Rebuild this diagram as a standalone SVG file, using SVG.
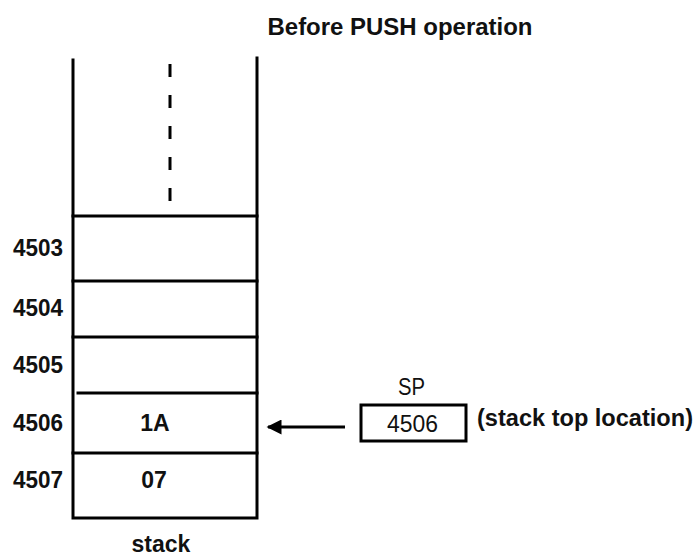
<svg xmlns="http://www.w3.org/2000/svg" width="697" height="556" viewBox="0 0 697 556">
<defs>
<style>
.ln{stroke:#000;stroke-width:3;fill:none;stroke-linecap:square}
.t{font-family:"Liberation Sans",Arial,sans-serif;font-weight:bold;font-size:23px;fill:#111}
.r{font-family:"Liberation Sans",Arial,sans-serif;font-size:24px;fill:#111}
</style>
<marker id="ah" viewBox="0 0 10 10" refX="9" refY="5" markerWidth="5.5" markerHeight="5" orient="auto-start-reverse" markerUnits="strokeWidth">
<path d="M0,0 L10,5 L0,10 z" fill="#000"/>
</marker>
</defs>
<rect width="697" height="556" fill="#fff"/>
<text class="t" x="400" y="35" text-anchor="middle" textLength="265" lengthAdjust="spacingAndGlyphs">Before PUSH operation</text>
<g id="stack">
<path class="ln" d="M73,60 V518 H257 V58"/>
<path class="ln" d="M170,64 V206" stroke-dasharray="13,18" style="stroke-linecap:butt"/>
<text class="t" x="161" y="552" text-anchor="middle">stack</text>
</g>
<g id="cell4503">
<line class="ln" x1="73" y1="216" x2="257" y2="216"/>
<text class="t" x="13" y="256" textLength="50" lengthAdjust="spacingAndGlyphs">4503</text>
</g>
<g id="cell4504">
<line class="ln" x1="73" y1="281" x2="257" y2="281"/>
<text class="t" x="13" y="316" textLength="50" lengthAdjust="spacingAndGlyphs">4504</text>
</g>
<g id="cell4505">
<line class="ln" x1="73" y1="337" x2="257" y2="337"/>
<text class="t" x="13" y="373" textLength="50" lengthAdjust="spacingAndGlyphs">4505</text>
</g>
<g id="cell4506">
<line class="ln" x1="78" y1="393" x2="257" y2="393"/>
<text class="t" x="13" y="431" textLength="50" lengthAdjust="spacingAndGlyphs">4506</text>
<text class="t" x="155" y="431" text-anchor="middle">1A</text>
</g>
<g id="cell4507">
<line class="ln" x1="73" y1="453" x2="257" y2="453"/>
<text class="t" x="13" y="488" textLength="50" lengthAdjust="spacingAndGlyphs">4507</text>
<text class="t" x="154" y="488" text-anchor="middle">07</text>
</g>
<g id="sp">
<text class="r" x="398" y="395" textLength="27" lengthAdjust="spacingAndGlyphs">SP</text>
<rect x="361" y="405" width="105" height="36" fill="none" stroke="#000" stroke-width="3"/>
<text class="r" x="387" y="432" textLength="51" lengthAdjust="spacingAndGlyphs">4506</text>
<text class="t" x="477" y="426" textLength="216" lengthAdjust="spacingAndGlyphs">(stack top location)</text>
</g>
<g id="connectors">
<line x1="345" y1="427" x2="268" y2="427" stroke="#000" stroke-width="3" marker-end="url(#ah)"/>
</g>
</svg>
